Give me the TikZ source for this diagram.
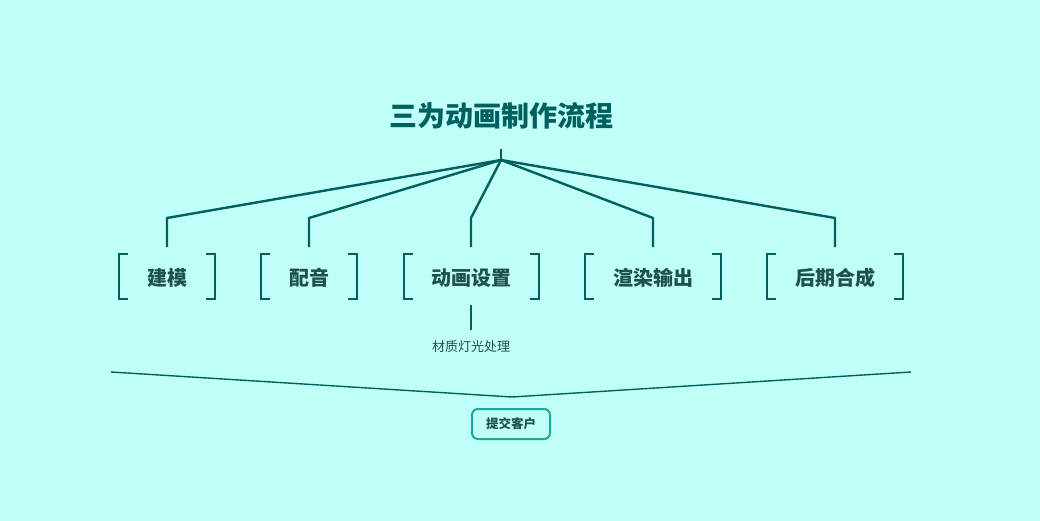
\documentclass[tikz,border=0pt]{standalone}
\usepackage{fontspec}
\setmainfont{Noto Sans CJK SC}
\begin{document}
\begin{tikzpicture}[x=1pt,y=-1pt,
  br/.style={draw=lc,line width=2.4pt},
  ln/.style={draw=lc,line width=2.4pt},
  lab/.style={text=tc,font=\fontsize{20}{20}\selectfont\bfseries}]
\definecolor{bg}{RGB}{192,255,248}
\definecolor{lc}{RGB}{0,96,96}
\definecolor{tc}{RGB}{30,80,80}
\definecolor{bc}{RGB}{26,168,160}
\fill[bg] (0,0) rectangle (1040,521);
\useasboundingbox (0,0) rectangle (1040,521);
\node[text=lc,font=\fontsize{28}{28}\selectfont\bfseries] (title) at (501,116) {三为动画制作流程};
\coordinate (root) at (501,160);
\draw[ln] (root) -- (501,149);
\foreach \n/\x/\l/\r/\t in {a/167/119/215/建模, b/309/261/357/配音, c/471/404/539/动画设置, d/653/585/721/渲染输出, e/835/767/903/后期合成}{
  \node[lab] (\n) at (\x,278) {\t};
  \coordinate (\n k) at (\x,218);
  \coordinate (\n t) at (\x,247);
  \draw[ln,line join=round] (root) -- (\n k) -- (\n t);
  \draw[br] (\l+9,254) -- (\l,254) -- (\l,299) -- (\l+9,299);
  \draw[br] (\r-9,254) -- (\r,254) -- (\r,299) -- (\r-9,299);
}
\coordinate (s1) at (471,305);
\coordinate (s2) at (471,330);
\draw[draw=lc,line width=1.5pt] (s1) -- (s2);
\node[text=tc,font=\fontsize{13}{13}\selectfont] (sub) at (471,347) {材质灯光处理};
\coordinate (L) at (111,372);
\coordinate (M) at (512,397);
\coordinate (R) at (911,372);
\draw[draw=lc,line width=1.4pt] (L) -- (M) -- (R);
\node[draw=bc,line width=2pt,rounded corners=6pt,minimum width=78pt,minimum height=30pt,text=tc,font=\fontsize{12.5}{12.5}\selectfont\bfseries] (box) at (511,424) {提交客户};
\end{tikzpicture}
\end{document}
